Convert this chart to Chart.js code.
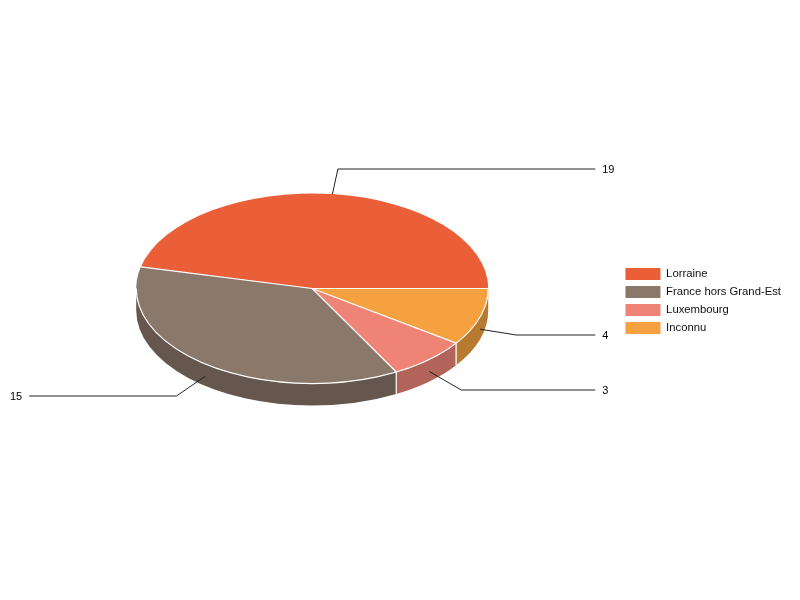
<!DOCTYPE html>
<html>
<head>
<meta charset="utf-8">
<title>Pie</title>
<script src="https://cdn.jsdelivr.net/npm/chart.js@4"></script>
<style>
body { margin: 0; background: #fff; }
canvas { display: block; }
</style>
</head>
<body>
<canvas id="myPie" width="800" height="600"></canvas>
<script>
var categories = ["Lorraine", "France hors Grand-Est", "Luxembourg", "Inconnu"];
var values = [19, 15, 3, 4];
var topColors = ["#eb5f38", "#8a796b", "#ef8376", "#f5a140"];
var sideColors = ["#a84428", "#65574d", "#b2635a", "#b77a30"];

var tilt = 0.54;
var depth = 22;
var lineEnd = 283;
var fontName = '"Liberation Sans", Arial, sans-serif';

// chart.js measures clockwise from y down, the picture runs the other way
function screenAngle(a) {
    return -a;
}

var pie3d = {
    id: 'pie3d',
    afterLayout: function (chart) {
        // move the legend block down next to the pie
        chart.legend.top += 12.5;
        chart.legend.bottom += 12.5;
        chart.legend.left -= 5;
        chart.legend.right -= 5;
    },
    beforeDatasetDraw: function (chart) {
        var ctx = chart.ctx;
        var arcs = chart.getDatasetMeta(0).data;
        var cx = arcs[0].x, cy = arcs[0].y, r = arcs[0].outerRadius;

        // outer wall, only the part facing the viewer
        arcs.forEach(function (arc, i) {
            var a1 = screenAngle(arc.startAngle);
            var a2 = screenAngle(arc.endAngle);
            // keep to the front half of the ellipse (screen angles 0..pi)
            var from = a2, to = a1;
            while (from < 0) { from += Math.PI * 2; to += Math.PI * 2; }
            if (from > Math.PI) return;
            to = Math.min(to, Math.PI);
            ctx.save();
            ctx.beginPath();
            ctx.ellipse(cx, cy, r, r * tilt, 0, from, to);
            ctx.ellipse(cx, cy + depth, r, r * tilt, 0, to, from, true);
            ctx.closePath();
            ctx.fillStyle = sideColors[i];
            ctx.fill();
            ctx.strokeStyle = '#fff';
            ctx.lineWidth = 1;
            [from, to].forEach(function (a) {
                if (a <= 0.001 || a >= Math.PI - 0.001) return;
                var x = cx + Math.cos(a) * r, y = cy + Math.sin(a) * r * tilt;
                ctx.beginPath();
                ctx.moveTo(x, y);
                ctx.lineTo(x, y + depth);
                ctx.stroke();
            });
            ctx.restore();
        });

        // squash and flip the flat pie into the top face
        ctx.save();
        ctx.translate(cx, cy);
        ctx.scale(1, -tilt);
        ctx.translate(-cx, -cy);
    },
    afterDatasetDraw: function (chart) {
        var ctx = chart.ctx;
        ctx.restore();

        var arcs = chart.getDatasetMeta(0).data;
        var cx = arcs[0].x, cy = arcs[0].y, r = arcs[0].outerRadius;

        // white outline of the top face, same width all round
        ctx.save();
        ctx.strokeStyle = '#fff';
        ctx.lineWidth = 1.2;
        arcs.forEach(function (arc) {
            var a = screenAngle(arc.startAngle);
            ctx.beginPath();
            ctx.moveTo(cx, cy);
            ctx.lineTo(cx + Math.cos(a) * r, cy + Math.sin(a) * r * tilt);
            ctx.stroke();
        });
        ctx.beginPath();
        ctx.ellipse(cx, cy, r, r * tilt, 0, 0, Math.PI);
        ctx.stroke();
        ctx.restore();

        // leader lines with the value labels
        ctx.save();
        ctx.font = '11px ' + fontName;
        ctx.fillStyle = '#000';
        ctx.strokeStyle = '#222';
        ctx.lineWidth = 1;
        ctx.textBaseline = 'middle';
        arcs.forEach(function (arc, i) {
            var mid = screenAngle((arc.startAngle + arc.endAngle) / 2);
            var c = Math.cos(mid), s = Math.sin(mid);
            var drop = s > 0 ? depth / 2 + 1 : 0;
            var x0 = cx + c * r, y0 = cy + s * r * tilt + drop;
            var x1 = cx + c * Math.min(r + 48, (r + 28) / Math.abs(c));
            var y1 = Math.round(cy + s * (r * tilt + 25) + drop * (0.7 + 0.4 * s));
            var right = c >= 0;
            var x2 = cx + (right ? lineEnd : -lineEnd);
            ctx.beginPath();
            ctx.moveTo(x0, y0);
            ctx.lineTo(x1, y1);
            ctx.lineTo(x2, y1);
            ctx.stroke();
            ctx.textAlign = right ? 'left' : 'right';
            ctx.fillText(String(values[i]), x2 + (right ? 7 : -7), y1 + 0.5);
        });
        ctx.restore();
    }
};

var ctx = document.getElementById("myPie").getContext('2d');
var myPie = new Chart(ctx, {
    type: 'pie',
    data: {
        labels: categories,
        datasets: [{
            data: values,
            backgroundColor: topColors,
            borderWidth: 0,
            clip: false
        }]
    },
    options: {
        responsive: false,
        animation: false,
        rotation: 90,
        layout: {
            padding: { left: 0, right: 4, top: 112.5, bottom: 135.5 }
        },
        plugins: {
            legend: {
                position: 'right',
                labels: {
                    boxWidth: 35,
                    boxHeight: 12,
                    padding: 6,
                    color: '#111',
                    font: { family: fontName, size: 11.3 }
                }
            },
            tooltip: { enabled: false }
        }
    },
    plugins: [pie3d]
});
</script>
</body>
</html>
